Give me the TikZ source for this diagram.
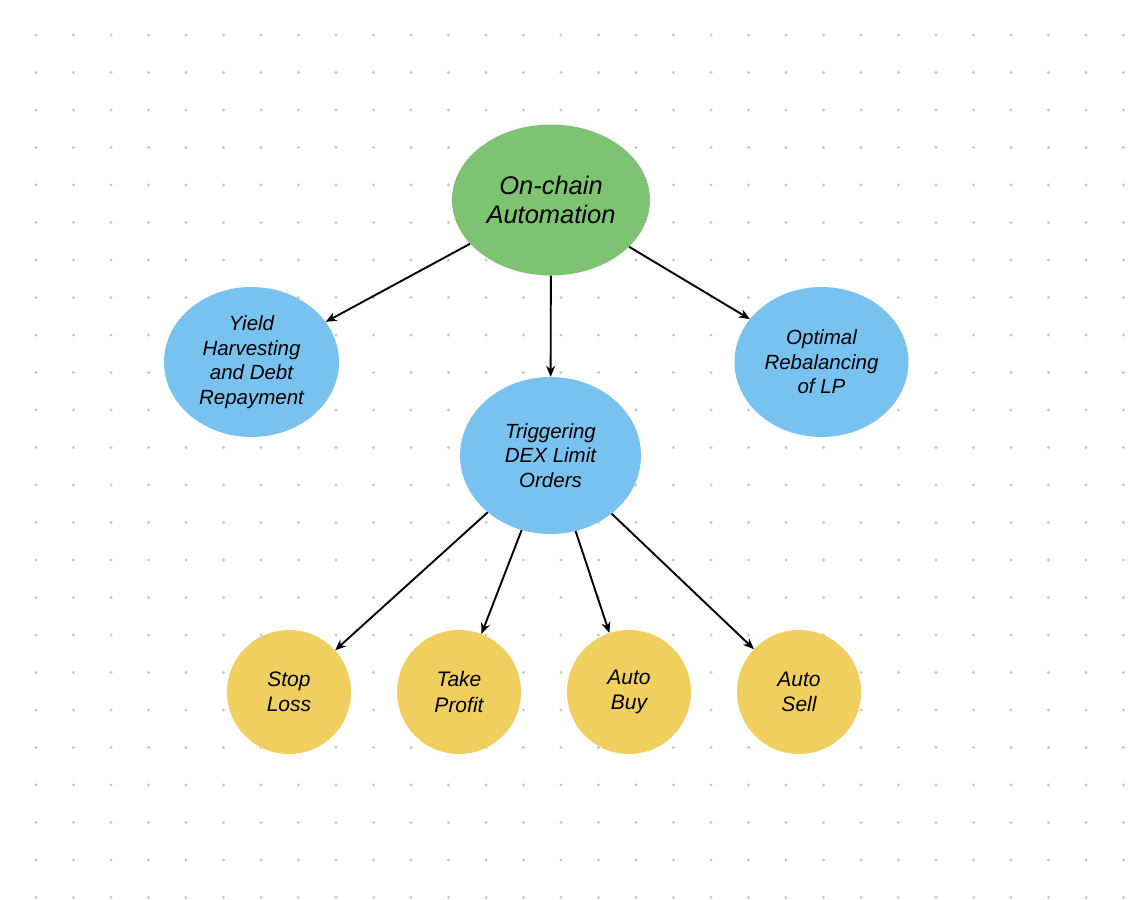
\documentclass[tikz,border=0pt]{standalone}
\usepackage{fontspec}
\setmainfont{Liberation Sans}
\usepackage{tikz}
\usetikzlibrary{arrows.meta, shapes.geometric}

\definecolor{hubgreen}{HTML}{7DC371}
\definecolor{topicblue}{HTML}{78C2F0}
\definecolor{leafyellow}{HTML}{F0CF5E}
\definecolor{griddot}{HTML}{C8C8C8}

\begin{document}
\begin{tikzpicture}[x=1pt, y=-1pt, >={Stealth[length=11pt, width=9pt]},
    hub/.style={ellipse, fill=hubgreen, minimum width=198pt, minimum height=151pt,
        inner sep=0pt, align=center, font=\fontsize{25.5}{29.5}\selectfont\itshape},
    topic/.style={ellipse, fill=topicblue, minimum width=175pt, minimum height=150pt,
        inner sep=0pt, align=center, font=\fontsize{20.5}{24.5}\selectfont\itshape},
    leaf/.style={circle, fill=leafyellow, minimum size=124pt,
        inner sep=0pt, align=center, font=\fontsize{21}{25.5}\selectfont\itshape},
    link/.style={->, line width=1.9pt}]
        % Background and dot grid
        \useasboundingbox[fill=white] (0,0) rectangle (1128,900);
        \foreach \i in {0,...,29}
            \foreach \j in {0,...,23}
                \fill[griddot] ({36+37.5*\i},{35+37.5*\j}) circle (1.6pt);
        % Root
        \node[hub] (auto) at (551,200) {On-chain\\Automation};
        % Second level
        \node[topic] (yield) at (251.5,362) {Yield\\Harvesting\\and Debt\\Repayment};
        \node[topic, minimum width=181pt, minimum height=157pt] (trig) at (550.5,455.5) {Triggering\\DEX Limit\\Orders};
        \node[topic, minimum width=174pt] (lp) at (821.5,362) {Optimal\\Rebalancing\\of LP};
        % Order types
        \node[leaf] (stop) at (289,692) {Stop\\Loss};
        \node[leaf] (take) at (459,692) {Take\\Profit};
        \node[leaf] (buy) at (629,692) {Auto\\Buy};
        \node[leaf] (sell) at (799,692) {Auto\\Sell};
        % Connectors
        \draw[link] (auto) -- (yield);
        \draw[link] (auto) -- (trig);
        \draw[link] (auto) -- (lp);
        \draw[link] (trig) -- (stop);
        \draw[link] (trig) -- (take);
        \draw[link] (trig) -- (buy);
        \draw[link] (trig) -- (sell);
    \end{tikzpicture}
\end{document}
